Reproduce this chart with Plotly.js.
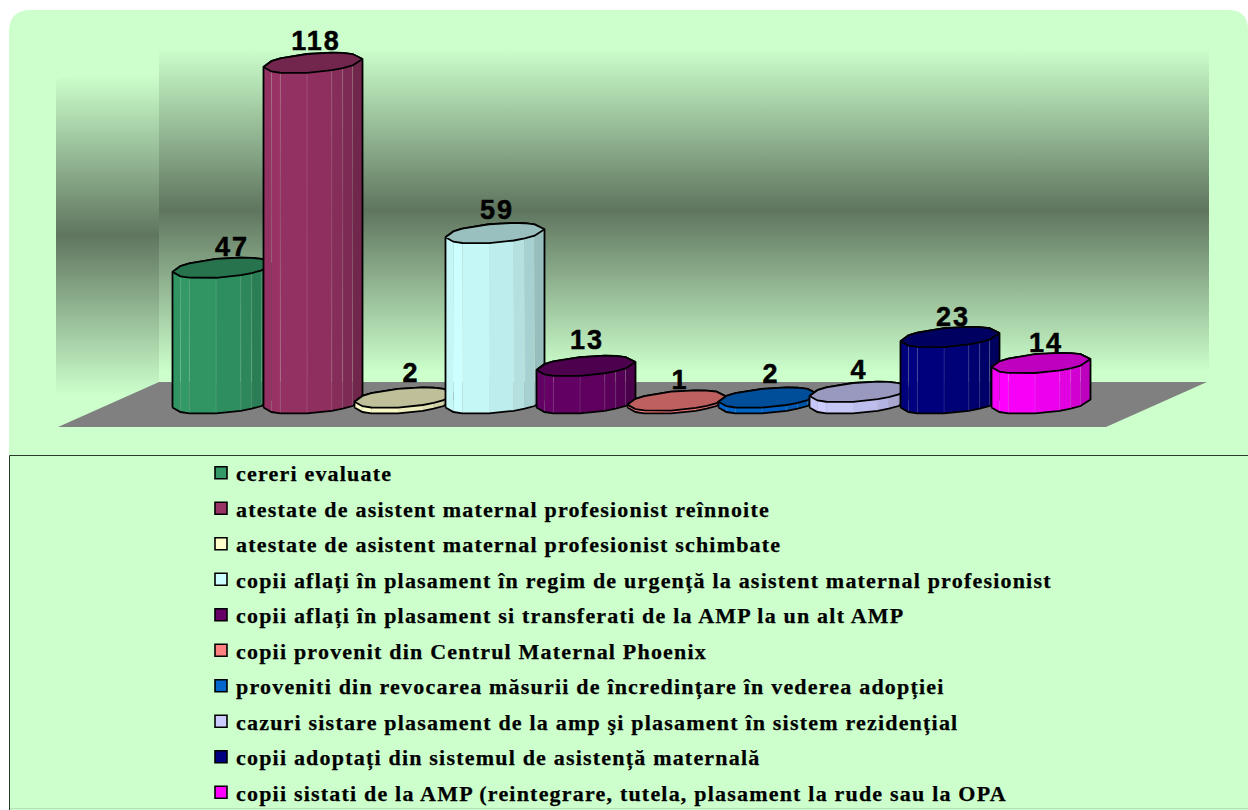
<!DOCTYPE html>
<html>
<head>
<meta charset="utf-8">
<script src="https://cdn.plot.ly/plotly-3.0.1.min.js"></script>
<style>
html,body{margin:0;padding:0;background:#fff;overflow:hidden}
#chart{width:1248px;height:810px}
.legendtext{letter-spacing:1.2px;stroke:#000;stroke-width:.25px}
.textpoint text{letter-spacing:2px;stroke:#000;stroke-width:.5px}
</style>
</head>
<body>
<div id="chart"></div>
<script>
const categories = [
  "cereri evaluate",
  "atestate de asistent maternal profesionist reînnoite",
  "atestate de asistent maternal profesionist schimbate",
  "copii aflați în plasament în regim de urgență la asistent maternal profesionist",
  "copii aflați în plasament si transferati de la AMP la un alt AMP",
  "copii provenit din Centrul Maternal Phoenix",
  "proveniti din revocarea măsurii de încredințare în vederea adopției",
  "cazuri sistare plasament de la amp şi plasament în sistem rezidențial",
  "copii adoptați din sistemul de asistență maternală",
  "copii sistati de la AMP (reintegrare, tutela, plasament la rude sau la OPA"
];
const values = [47, 118, 2, 59, 13, 1, 2, 4, 23, 14];
const colors = ["#339966","#993366","#FFFFCC","#CCFFFF","#660066","#FF8080","#0066CC","#CCCCFF","#000080","#FF00FF"];
const labelNudge = [10, 3, 7, 2, 1, 3, 3, 0, 3, 5];
const labelLift = [19, 20, 22, 21, 24, 18, 21, 20, 18, 18];

// Projection of the pseudo-3D chart onto the full-page axes
const W = 1248, H = 810, STEP = 91, UNIT = 2.886, BASE_PX = 403.5, FIRST_PX = 222;
const xOf = px => (px - FIRST_PX) / STEP;
const yOf = py => (BASE_PX - py) / UNIT;
const RX = 49.5 / STEP, RY = 9.5 / UNIT, TILT = 4 / UNIT;
const facetStops = [0, .08, .17, .44, .69, .80, .90, 1];
const facetShade = [.97, 1, .97, .93, .88, .82, .74];
const capShade = .75;

function shade(hex, m) {
  const n = parseInt(hex.slice(1), 16);
  const c = [n >> 16, (n >> 8) & 255, n & 255].map(v => Math.round(v * m));
  return `rgb(${c[0]},${c[1]},${c[2]})`;
}
const ringPt = (cx, v, f, front) => {
  const c = 2 * f - 1, s = Math.sqrt(Math.max(0, 1 - c * c));
  return [cx + RX * c, v + TILT * c + (front ? -RY * s : RY * s)];
};
const polyTrace = (pts, extra) => Object.assign({
  type: 'scatter', mode: 'lines', x: pts.map(p => p[0]), y: pts.map(p => p[1]),
  showlegend: false, hoverinfo: 'skip', line: {width: 0, color: 'rgba(0,0,0,0)'}
}, extra);

const traces = [];

// Real bars carry the data and the legend swatches
categories.forEach((name, i) => traces.push({
  type: 'bar', x: [i], y: [values[i]], width: 0.86, name, legendgroup: 'g' + i,
  marker: {color: colors[i], line: {color: '#000', width: 1.6}}, hoverinfo: 'name+y'
}));

// Walls and floor
const wallScale = [[0, '#CCFFCC'], [.5, '#5F755F'], [1, '#CCFFCC']];
traces.push(polyTrace(
  [[56,80],[159,40],[159,382],[56,427]].map(p => [xOf(p[0]), yOf(p[1])]),
  {fill: 'toself', fillgradient: {type: 'vertical', colorscale: wallScale, start: yOf(75), stop: yOf(395)}}));
traces.push(polyTrace(
  [[159,40],[1209,40],[1209,382],[159,382]].map(p => [xOf(p[0]), yOf(p[1])]),
  {fill: 'toself', fillgradient: {type: 'vertical', colorscale: wallScale, start: yOf(48), stop: yOf(372)}}));
traces.push(polyTrace(
  [[159,382],[1207,382],[1106,427],[58,427]].map(p => [xOf(p[0]), yOf(p[1])]),
  {fill: 'toself', fillcolor: '#808080'}));

// Cylinders, drawn left to right so each one overlaps the previous
values.forEach((v, i) => {
  for (let k = 0; k < facetShade.length; k++) {
    const a = facetStops[k], b = facetStops[k + 1];
    traces.push(polyTrace(
      [ringPt(i, 0, a, true), ringPt(i, 0, b, true), ringPt(i, v, b, true), ringPt(i, v, a, true), ringPt(i, 0, a, true)],
      {fill: 'toself', fillcolor: shade(colors[i], facetShade[k])}));
  }
  // faint seams between facets
  const seamX = [], seamY = [];
  facetStops.slice(1, -1).forEach(f => {
    const p0 = ringPt(i, 0, f, true), p1 = ringPt(i, v, f, true);
    seamX.push(p0[0], p1[0], null); seamY.push(p0[1], p1[1], null);
  });
  traces.push({type: 'scatter', mode: 'lines', x: seamX, y: seamY, showlegend: false, hoverinfo: 'skip',
    line: {width: 0.7, color: 'rgba(255,255,255,0.16)'}});
  // silhouette
  const front = facetStops.map(f => ringPt(i, 0, f, true));
  const back = facetStops.slice().reverse().map(f => ringPt(i, v, f, false));
  const sil = front.concat(back, [front[0]]);
  traces.push(polyTrace(sil, {line: {width: 1.8, color: '#000'}}));
  // top cap
  const capF = facetStops.map(f => ringPt(i, v, f, true));
  const cap = capF.concat(back.slice(1), []);
  traces.push(polyTrace(cap, {fill: 'toself', fillcolor: shade(colors[i], capShade), line: {width: 1.8, color: '#000'}}));
});

// Value labels
traces.push({
  type: 'scatter', mode: 'text', showlegend: false, hoverinfo: 'skip',
  x: values.map((v, i) => i + labelNudge[i] / STEP),
  y: values.map((v, i) => v + labelLift[i] / UNIT),
  text: values.map(String), textposition: 'middle center',
  textfont: {family: '"Liberation Sans", Arial, sans-serif', size: 27, color: '#000', weight: 700}
});

const layout = {
  width: W, height: H, margin: {l: 0, r: 0, t: 0, b: 0, pad: 0, autoexpand: false},
  paper_bgcolor: '#FFFFFF', plot_bgcolor: 'rgba(0,0,0,0)',
  barmode: 'overlay', showlegend: true,
  xaxis: {range: [xOf(0), xOf(W)], visible: false, fixedrange: true},
  yaxis: {range: [yOf(H), yOf(0)], visible: false, fixedrange: true},
  legend: {
    x: 196 / W, xanchor: 'left', y: 1 - 452 / H, yanchor: 'top', maxheight: 600,
    bgcolor: 'rgba(0,0,0,0)', borderwidth: 0, traceorder: 'grouped', tracegroupgap: 3.9,
    font: {family: '"Liberation Serif", "Times New Roman", serif', size: 22, color: '#000', weight: 700}
  },
  shapes: [
    {type: 'path', xref: 'paper', yref: 'paper', layer: 'below', line: {width: 0}, fillcolor: '#CCFFCC',
     path: `M ${9/W} ${1-810/H} L ${9/W} ${1-32/H} Q ${9/W} ${1-10/H} ${31/W} ${1-10/H} L ${1228/W} ${1-10/H} Q ${1248/W} ${1-10/H} ${1248/W} ${1-30/H} L ${1248/W} ${1-810/H} Z`},
    {type: 'path', xref: 'paper', yref: 'paper', layer: 'below', line: {width: 1, color: '#2a3a2a'}, fillcolor: 'rgba(0,0,0,0)',
     path: `M ${9.5/W} ${1-810/H} L ${9.5/W} ${1-455.5/H} L ${1248/W} ${1-455.5/H}`},
    {type: 'line', xref: 'paper', yref: 'paper', layer: 'below', line: {width: 1, color: '#B4E4B4'},
     x0: 10/W, x1: 1, y0: 1-808.5/H, y1: 1-808.5/H}
  ]
};

Plotly.newPlot('chart', traces, layout, {displayModeBar: false, responsive: false}).then(() => {
  // swatches sit closer to their text than Plotly's default item gap
  document.querySelectorAll('.legend .legendsymbols').forEach(g => {
    g.setAttribute('transform', 'translate(5,0)');
  });
});
</script>
</body>
</html>
